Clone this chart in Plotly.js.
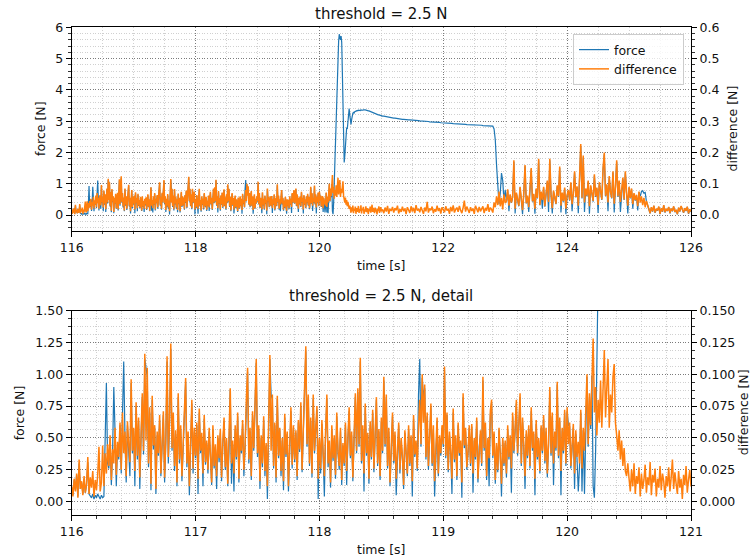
<!DOCTYPE html>
<html>
<head>
<meta charset="utf-8">
<script src="https://cdn.plot.ly/plotly-3.0.1.min.js"></script>
<style>
  html, body { margin: 0; padding: 0; background: #fff; }
  #chart { width: 751px; height: 560px; }
</style>
</head>
<body>
<div id="chart"></div>
<script>
// Sensor log: measured force and the difference signal, threshold 2.5 N.
// Block A is sampled every 10 ms from 116.00 s, block B every 20 ms from 121.02 s.
const startA = 116.00, stepA = 0.01;
const startB = 121.02, stepB = 0.02;

const forceA = [
  0.11, 0.05, 0.17, 0.09, 0.21, 0.04, 0.30, 0.10, 0.15, 0.06,
  0.18, 0.07, 0.13, 0.31, 0.06, 0.04, 0.03, 0.06, 0.02, 0.05,
  0.03, 0.06, 0.04, 0.02, 0.05, 0.03, 0.04, 0.40, 0.93, 0.30,
  0.26, 0.50, 0.13, 0.38, 0.90, 0.55, 0.12, 0.44, 0.33, 0.60,
  0.22, 0.68, 1.10, 0.52, 0.15, 0.60, 0.44, 0.20, 0.93, 0.38,
  0.56, 0.12, 0.75, 0.33, 0.63, 0.10, 0.50, 0.82, 0.37, 1.12,
  1.05, 0.98, 0.27, 0.70, 0.09, 0.80, 0.41, 0.58, 0.06, 0.52,
  0.36, 0.64, 0.20, 0.45, 0.68, 0.15, 0.47, 1.10, 0.30, 0.61,
  1.20, 0.40, 0.66, 0.24, 0.53, 0.12, 0.82, 0.30, 0.57, 0.16,
  0.47, 0.70, 0.94, 0.27, 0.52, 0.05, 0.43, 0.77, 0.22, 0.55,
  0.34, 0.60, 0.06, 0.70, 0.38, 0.51, 0.12, 0.65, 0.29, 0.46,
  0.22, 0.55, 0.35, 0.13, 0.57, 0.26, 0.43, 0.10, 0.50, 0.31,
  0.54, 0.16, 0.44, 0.63, 0.25, 0.48, 0.12, 0.40, 0.88, 0.14,
  0.45, 0.08, 0.57, 0.33, 0.67, 0.15, 0.50, 0.38, 0.61, 0.20,
  0.43, 0.77, 1.02, 0.30, 0.55, 0.17, 0.68, 0.40, 0.85, 1.09,
  0.35, 0.57, 0.10, 0.50, 0.27, 0.64, 0.20, 0.44, 0.02, 0.52,
  1.12, 0.84, 0.80, 0.26, 0.60, 0.15, 0.81, 0.34, 0.56, 0.20,
  0.48, 0.09, 0.66, 0.35, 0.53, 0.08, 0.45, 0.71, 0.26, 0.58,
  0.31, 0.54, 0.17, 0.62, 0.39, 0.75, 0.23, 0.50, 0.85, 1.18,
  0.43, 0.82, 0.28, 0.63, 0.19, 0.81, 0.38, 0.56, 0.72, 0.02,
  0.48, 0.22, 0.61, 0.36, 0.04, 0.53, 0.81, 0.27, 0.45, 0.11,
  0.57, 0.32, 0.50, 0.18, 0.67, 0.38, 0.25, 0.55, 0.13, 0.44,
  0.28, 0.60, 0.13, 0.48, 0.71, 0.34, 0.52, 0.16, 0.63, 0.82,
  0.38, 0.86, 0.43, 1.10, 0.30, 0.57, 0.08, 0.74, 0.36, 0.52,
  0.14, 0.60, 0.33, 0.70, 0.23, 0.48, 0.80, 0.28, 0.55, 0.17,
  0.63, 0.38, 0.95, 0.43, 0.82, 0.26, 0.55, 0.12, 0.44, 0.67,
  0.30, 0.52, 0.05, 0.42, 0.60, 0.22, 0.48, 0.33, 0.10, 0.54,
  0.39, 0.20, 0.57, 0.28, 0.50, 0.04, 0.65, 0.35, 0.46, 0.24,
  0.84, 1.12, 0.43, 0.97, 0.82, 0.89, 0.33, 0.67, 0.25, 0.52,
  0.74, 0.28, 0.57, 0.04, 0.46, 0.63, 0.20, 0.50, 0.36, 0.58,
  0.43, 1.03, 0.34, 0.68, 0.23, 0.52, 0.38, 0.06, 0.70, 0.31,
  0.50, 0.17, 0.60, 0.36, 0.46, 0.03, 0.82, 0.42, 0.55, 0.25,
  0.38, 0.58, 0.28, 0.59, 0.07, 0.48, 0.33, 0.63, 0.15, 0.43,
  0.53, 0.28, 0.95, 0.40, 0.60, 0.17, 0.48, 0.12, 0.68, 0.78,
  0.34, 0.53, 0.14, 0.44, 0.23, 0.56, 0.38, 0.04, 0.48, 0.28,
  0.46, 0.19, 0.57, 0.33, 0.50, 0.07, 0.67, 0.38, 0.55, 0.77,
  0.36, 0.60, 0.82, 0.28, 0.63, 0.42, 0.10, 0.53, 0.34, 0.57,
  0.26, 0.71, 0.40, 0.53, 0.05, 0.61, 0.33, 0.48, 0.22, 0.58,
  0.38, 0.65, 0.30, 0.55, 0.19, 0.44, 0.87, 0.36, 0.67, 0.13,
  0.52, 0.40, 0.92, 0.34, 0.63, 0.05, 0.56, 0.38, 0.70, 0.28,
  0.71, 0.60, 0.59, 0.26, 0.48, 0.58, 0.10, 0.53, 0.33, 0.08,
  0.28, 0.70, 0.08, 0.56, 0.06, 0.62, 0.98, 0.43, 0.82, 0.57,
  0.99, 0.12, 0.03, 0.40, 1.10, 2.00, 2.70, 3.40, 4.10, 4.70,
  5.20, 5.55, 5.78, 5.70, 5.60, 5.72, 5.52, 4.60, 3.20, 2.20,
  1.68, 1.90, 2.30, 2.60, 2.80, 2.75, 3.00, 3.25, 3.40, 3.20,
  2.95, 2.90, 3.05, 3.18, 3.25, 3.28, 3.26, 3.30, 3.32, 3.31,
  3.33, 3.34, 3.33, 3.35, 3.34, 3.35, 3.34, 3.36, 3.35, 3.35,
  3.35, 3.36, 3.35, 3.36, 3.36, 3.35, 3.35, 3.34, 3.34, 3.33,
  3.33, 3.32, 3.31, 3.31, 3.30, 3.29, 3.28, 3.27, 3.26, 3.25,
  3.24, 3.23, 3.23, 3.22, 3.21, 3.20, 3.20, 3.19, 3.18, 3.18,
  3.17
];

const diffA = [
  0.012, 0.004, 0.018, 0.008, 0.022, 0.003, 0.033, 0.010, 0.016, 0.005,
  0.020, 0.007, 0.014, 0.035, 0.006, 0.019, 0.011, 0.024, 0.004, 0.017,
  0.009, 0.021, 0.043, 0.008, 0.015, 0.044, 0.012, 0.038, 0.022, 0.045,
  0.028, 0.052, 0.017, 0.041, 0.030, 0.058, 0.021, 0.047, 0.035, 0.062,
  0.025, 0.070, 0.038, 0.055, 0.020, 0.063, 0.045, 0.031, 0.096, 0.040,
  0.058, 0.024, 0.078, 0.036, 0.066, 0.019, 0.052, 0.085, 0.040, 0.116,
  0.048, 0.105, 0.030, 0.074, 0.014, 0.083, 0.044, 0.060, 0.010, 0.055,
  0.038, 0.068, 0.022, 0.047, 0.071, 0.019, 0.050, 0.114, 0.035, 0.064,
  0.124, 0.042, 0.070, 0.028, 0.056, 0.015, 0.085, 0.033, 0.060, 0.020,
  0.050, 0.072, 0.097, 0.030, 0.055, 0.012, 0.045, 0.080, 0.026, 0.058,
  0.036, 0.062, 0.018, 0.073, 0.040, 0.054, 0.022, 0.068, 0.031, 0.048,
  0.025, 0.058, 0.037, 0.015, 0.060, 0.028, 0.045, 0.020, 0.052, 0.034,
  0.057, 0.019, 0.046, 0.066, 0.027, 0.050, 0.014, 0.043, 0.089, 0.030,
  0.048, 0.022, 0.060, 0.035, 0.070, 0.018, 0.052, 0.040, 0.064, 0.025,
  0.045, 0.080, 0.105, 0.033, 0.058, 0.020, 0.071, 0.042, 0.088, 0.112,
  0.038, 0.060, 0.016, 0.052, 0.030, 0.067, 0.024, 0.046, 0.012, 0.055,
  0.115, 0.040, 0.084, 0.028, 0.062, 0.019, 0.083, 0.036, 0.058, 0.024,
  0.050, 0.016, 0.069, 0.037, 0.055, 0.012, 0.047, 0.074, 0.029, 0.060,
  0.033, 0.056, 0.020, 0.064, 0.041, 0.078, 0.025, 0.052, 0.088, 0.122,
  0.045, 0.084, 0.030, 0.066, 0.022, 0.084, 0.040, 0.058, 0.075, 0.018,
  0.050, 0.026, 0.064, 0.038, 0.020, 0.056, 0.084, 0.030, 0.048, 0.015,
  0.060, 0.034, 0.052, 0.021, 0.070, 0.040, 0.028, 0.058, 0.017, 0.046,
  0.030, 0.062, 0.024, 0.050, 0.074, 0.036, 0.055, 0.019, 0.066, 0.085,
  0.040, 0.089, 0.045, 0.113, 0.032, 0.060, 0.022, 0.077, 0.038, 0.054,
  0.018, 0.063, 0.035, 0.072, 0.026, 0.050, 0.082, 0.030, 0.057, 0.020,
  0.066, 0.040, 0.098, 0.045, 0.084, 0.028, 0.058, 0.015, 0.047, 0.070,
  0.032, 0.055, 0.018, 0.044, 0.062, 0.025, 0.050, 0.036, 0.013, 0.056,
  0.041, 0.022, 0.060, 0.030, 0.052, 0.016, 0.068, 0.037, 0.048, 0.026,
  0.058, 0.080, 0.045, 0.100, 0.062, 0.092, 0.035, 0.070, 0.028, 0.054,
  0.077, 0.030, 0.060, 0.016, 0.048, 0.066, 0.022, 0.052, 0.038, 0.060,
  0.045, 0.106, 0.036, 0.070, 0.025, 0.055, 0.040, 0.018, 0.073, 0.033,
  0.052, 0.020, 0.062, 0.038, 0.048, 0.015, 0.085, 0.044, 0.058, 0.027,
  0.040, 0.060, 0.030, 0.061, 0.022, 0.050, 0.035, 0.066, 0.018, 0.045,
  0.056, 0.030, 0.098, 0.042, 0.062, 0.020, 0.050, 0.034, 0.071, 0.080,
  0.036, 0.055, 0.017, 0.046, 0.025, 0.058, 0.040, 0.014, 0.050, 0.030,
  0.048, 0.022, 0.060, 0.035, 0.052, 0.026, 0.070, 0.040, 0.058, 0.080,
  0.038, 0.062, 0.085, 0.030, 0.066, 0.044, 0.020, 0.056, 0.036, 0.060,
  0.028, 0.074, 0.042, 0.055, 0.018, 0.064, 0.035, 0.050, 0.024, 0.060,
  0.040, 0.068, 0.032, 0.058, 0.022, 0.046, 0.090, 0.038, 0.070, 0.030,
  0.055, 0.042, 0.094, 0.036, 0.066, 0.024, 0.058, 0.040, 0.072, 0.030,
  0.074, 0.045, 0.062, 0.028, 0.050, 0.061, 0.022, 0.056, 0.035, 0.047,
  0.030, 0.072, 0.026, 0.058, 0.040, 0.065, 0.100, 0.045, 0.085, 0.060,
  0.103, 0.128, 0.070, 0.090, 0.052, 0.080, 0.062, 0.095, 0.058, 0.086,
  0.119, 0.066, 0.090, 0.112, 0.058, 0.084, 0.070, 0.098, 0.108, 0.062,
  0.052, 0.040, 0.056, 0.033, 0.048, 0.028, 0.042, 0.024, 0.020, 0.030,
  0.018, 0.008, 0.025, 0.012, 0.030, 0.006, 0.020, 0.014, 0.027, 0.004,
  0.022, 0.010, 0.017, 0.029, 0.007, 0.019, 0.013, 0.031, 0.005, 0.021,
  0.015, 0.026, 0.004, 0.018, 0.011, 0.028, 0.009, 0.022, 0.016, 0.003,
  0.020, 0.012, 0.027, 0.008, 0.019, 0.033, 0.010, 0.023, 0.014, 0.006,
  0.024, 0.011, 0.018, 0.002, 0.021, 0.013, 0.028, 0.007, 0.017, 0.025,
  0.012
];

const forceB = [
  3.16, 3.16, 3.15, 3.14, 3.14, 3.13, 3.12, 3.12, 3.11, 3.10,
  3.10, 3.09, 3.09, 3.08, 3.07, 3.07, 3.06, 3.06, 3.05, 3.05,
  3.05, 3.04, 3.04, 3.04, 3.03, 3.03, 3.03, 3.02, 3.02, 3.02,
  3.01, 3.01, 3.00, 3.00, 3.00, 2.99, 2.99, 2.99, 2.98, 2.98,
  2.98, 2.97, 2.97, 2.97, 2.96, 2.96, 2.96, 2.95, 2.95, 2.95,
  2.94, 2.94, 2.94, 2.93, 2.93, 2.93, 2.93, 2.92, 2.92, 2.92,
  2.92, 2.91, 2.91, 2.91, 2.90, 2.90, 2.90, 2.90, 2.89, 2.89,
  2.89, 2.89, 2.88, 2.88, 2.88, 2.88, 2.87, 2.87, 2.87, 2.87,
  2.87, 2.86, 2.86, 2.86, 2.86, 2.86, 2.85, 2.85, 2.85, 2.84,
  2.75, 2.40, 1.60, 0.90, 0.35, 0.70, 1.34, 1.10, 0.45, 0.80,
  0.44, 0.80, 0.12, 0.64, 0.39, 0.56, 1.70, 0.05, 0.70, 0.47,
  0.28, 0.88, 0.50, 0.03, 0.68, 1.56, 0.37, 0.60, 0.10, 0.78,
  1.46, 0.43, 0.66, 0.04, 0.82, 0.53, 1.75, 0.31, 0.73, 0.20,
  0.88, 0.27, 0.58, 1.07, 0.10, 1.75, 0.64, 0.05, 0.76, 0.48,
  0.35, 0.92, 0.58, 1.50, 0.08, 0.70, 0.43, 0.85, 0.03, 0.62,
  0.78, 0.46, 1.02, 0.12, 0.68, 1.36, 0.56, 0.89, 0.06, 1.16,
  2.20, 0.53, 1.84, 0.10, 0.82, 0.60, 1.07, 0.04, 0.92, 0.68,
  0.43, 1.26, 0.58, 0.85, 0.07, 1.02, 0.70, 0.48, 1.45, 1.94,
  0.60, 0.95, 0.12, 1.21, 0.73, 0.53, 1.36, 0.08, 0.87, 1.70,
  0.58, 1.07, 0.10, 0.78, 1.16, 0.48, 1.36, 0.68, 0.05, 0.87,
  0.53, 0.82, 0.20, 0.68, 0.46, 0.63, 0.15, 0.73, 0.60, 0.75,
  0.78, 0.70, 0.72, 0.44, 0.29,
  0.17, 0.05, 0.24, 0.11, 0.29, 0.07, 0.19, 0.14, 0.26, 0.03,
  0.21, 0.10, 0.31, 0.08, 0.18, 0.13, 0.25, 0.05, 0.20, 0.12,
  0.27, 0.09, 0.16, 0.02, 0.23, 0.11, 0.28, 0.15, 0.07, 0.21,
  0.13, 0.26, 0.04, 0.18, 0.10
];

const diffB = [
  0.018, 0.006, 0.024, 0.011, 0.029, 0.004, 0.020, 0.013, 0.026, 0.008,
  0.022, 0.015, 0.030, 0.005, 0.019, 0.010, 0.027, 0.012, 0.021, 0.003,
  0.025, 0.016, 0.007, 0.028, 0.011, 0.023, 0.006, 0.032, 0.014, 0.020,
  0.009, 0.026, 0.017, 0.004, 0.024, 0.012, 0.042, 0.008, 0.021, 0.015,
  0.027, 0.006, 0.019, 0.011, 0.030, 0.013, 0.022, 0.005, 0.025, 0.016,
  0.009, 0.028, 0.014, 0.020, 0.004, 0.026, 0.012, 0.031, 0.008, 0.018,
  0.024, 0.010, 0.029, 0.015, 0.006, 0.023, 0.046, 0.011, 0.027, 0.017,
  0.007, 0.025, 0.013, 0.021, 0.004, 0.030, 0.016, 0.009, 0.026, 0.012,
  0.020, 0.028, 0.006, 0.023, 0.014, 0.035, 0.010, 0.024, 0.018, 0.008,
  0.040, 0.025, 0.060, 0.032, 0.075, 0.028, 0.055, 0.018, 0.066, 0.038,
  0.045, 0.082, 0.030, 0.066, 0.040, 0.058, 0.175, 0.020, 0.072, 0.048,
  0.030, 0.090, 0.052, 0.016, 0.070, 0.160, 0.038, 0.062, 0.025, 0.080,
  0.150, 0.044, 0.068, 0.020, 0.085, 0.055, 0.180, 0.032, 0.075, 0.048,
  0.090, 0.028, 0.060, 0.110, 0.042, 0.180, 0.066, 0.022, 0.078, 0.050,
  0.036, 0.095, 0.060, 0.155, 0.030, 0.072, 0.045, 0.088, 0.020, 0.064,
  0.080, 0.048, 0.105, 0.035, 0.070, 0.140, 0.058, 0.092, 0.030, 0.120,
  0.227, 0.055, 0.190, 0.040, 0.085, 0.062, 0.110, 0.028, 0.095, 0.070,
  0.045, 0.130, 0.060, 0.088, 0.032, 0.105, 0.072, 0.050, 0.150, 0.200,
  0.062, 0.098, 0.040, 0.125, 0.075, 0.055, 0.140, 0.036, 0.090, 0.175,
  0.060, 0.110, 0.042, 0.080, 0.120, 0.050, 0.140, 0.070, 0.030, 0.090,
  0.055, 0.085, 0.035, 0.070, 0.048, 0.065, 0.028, 0.075, 0.040, 0.060,
  0.032, 0.055, 0.025, 0.045, 0.030,
  0.018, 0.006, 0.025, 0.012, 0.030, 0.008, 0.020, 0.015, 0.027, 0.004,
  0.022, 0.011, 0.032, 0.009, 0.019, 0.014, 0.026, 0.006, 0.021, 0.013,
  0.028, 0.010, 0.017, 0.003, 0.024, 0.012, 0.029, 0.016, 0.008, 0.022,
  0.014, 0.027, 0.005, 0.019, 0.011
];

function sampleTimes(start, step, n) {
  const t = [];
  for (let i = 0; i < n; i++) t.push(Math.round((start + i * step) * 1000) / 1000);
  return t;
}

const time = sampleTimes(startA, stepA, forceA.length).concat(sampleTimes(startB, stepB, forceB.length));
const force = forceA.concat(forceB);
const difference = diffA.concat(diffB);

const BLUE = '#1f77b4', ORANGE = '#ff7f0e';
const FONT = 'DejaVu Sans, Liberation Sans, sans-serif';

const traces = [
  { type: 'scatter', mode: 'lines', x: time, y: force, xaxis: 'x', yaxis: 'y',
    name: 'force', line: { color: BLUE, width: 1.2 } },
  { type: 'scatter', mode: 'lines', x: time, y: difference, xaxis: 'x', yaxis: 'y2',
    name: 'difference', line: { color: ORANGE, width: 1.5 } },
  { type: 'scatter', mode: 'lines', x: time, y: force, xaxis: 'x2', yaxis: 'y3',
    showlegend: false, line: { color: BLUE, width: 1.2 } },
  { type: 'scatter', mode: 'lines', x: time, y: difference, xaxis: 'x2', yaxis: 'y4',
    showlegend: false, line: { color: ORANGE, width: 1.5 } }
];

const DOT = '1px,1.6px';
function axis(extra, minor) {
  return Object.assign({
    showline: true, linecolor: '#000', linewidth: 1,
    ticks: 'outside', ticklen: 5, tickwidth: 1, tickcolor: '#000',
    tickfont: { size: 12.5, color: '#111' },
    zeroline: false, showgrid: true, gridcolor: '#5a5a5a', griddash: DOT, gridwidth: 0.8,
    minor: Object.assign({ ticks: 'outside', ticklen: 2.5, tickcolor: '#000', tickwidth: 0.8,
      showgrid: true, gridcolor: '#c4c4c4', griddash: DOT, gridwidth: 0.8 }, minor)
  }, extra);
}

const topDom = [1 - 230.7 / 560, 1 - 27.3 / 560];
const botDom = [1 - 515 / 560, 1 - 310.5 / 560];
const xDom = [71.7 / 751, 691 / 751];

const layout = {
  width: 751, height: 560,
  margin: { l: 0, r: 0, t: 0, b: 0 },
  paper_bgcolor: '#fff', plot_bgcolor: '#fff',
  font: { family: FONT, size: 12.5, color: '#111' },
  showlegend: true,
  legend: { x: 684 / 751, y: 1 - 34 / 560, xanchor: 'right', yanchor: 'top',
    bgcolor: 'rgba(255,255,255,0.8)', bordercolor: '#cccccc', borderwidth: 1,
    font: { size: 12.5 } },
  xaxis: axis({ domain: xDom, anchor: 'y', range: [116, 126], tick0: 116, dtick: 2, mirror: true },
              { tick0: 116, dtick: 0.5 }),
  yaxis: axis({ domain: topDom, anchor: 'x', range: [-0.5, 6], tick0: 0, dtick: 1 },
              { tick0: 0, dtick: 0.2 }),
  yaxis2: axis({ overlaying: 'y', side: 'right', anchor: 'x', range: [-0.05, 0.6], tick0: 0, dtick: 0.1,
                 tickformat: '.1f', showgrid: false },
               { tick0: 0, dtick: 0.02, showgrid: false }),
  xaxis2: axis({ domain: xDom, anchor: 'y3', range: [116, 121], tick0: 116, dtick: 1, mirror: true },
               { tick0: 116, dtick: 0.2 }),
  yaxis3: axis({ domain: botDom, anchor: 'x2', range: [-0.105, 1.5], tick0: 0, dtick: 0.25, tickformat: '.2f' },
               { tick0: 0, dtick: 0.0625 }),
  yaxis4: axis({ overlaying: 'y3', side: 'right', anchor: 'x2', range: [-0.0105, 0.15], tick0: 0, dtick: 0.025,
                 tickformat: '.3f', showgrid: false },
               { tick0: 0, dtick: 0.00625, showgrid: false }),
  annotations: [
    { text: 'threshold = 2.5 N', x: 381.4 / 751, y: 1 - 14 / 560, font: { size: 15 } },
    { text: 'threshold = 2.5 N, detail', x: 381.4 / 751, y: 1 - 296 / 560, font: { size: 15 } },
    { text: 'time [s]', x: 381.4 / 751, y: 1 - 265 / 560 },
    { text: 'time [s]', x: 381.4 / 751, y: 1 - 549 / 560 },
    { text: 'force [N]', x: 41 / 751, y: 1 - 129 / 560, textangle: -90 },
    { text: 'force [N]', x: 19.5 / 751, y: 1 - 412.8 / 560, textangle: -90 },
    { text: 'difference [N]', x: 732.5 / 751, y: 1 - 129 / 560, textangle: -90 },
    { text: 'difference [N]', x: 743.5 / 751, y: 1 - 412.8 / 560, textangle: -90 }
  ].map(a => Object.assign({ xref: 'paper', yref: 'paper', xanchor: 'center', yanchor: 'middle',
                             showarrow: false, font: { size: 12.5 } }, a)),
  hovermode: false
};

Plotly.newPlot('chart', traces, layout, { staticPlot: true, displayModeBar: false });
</script>
</body>
</html>
